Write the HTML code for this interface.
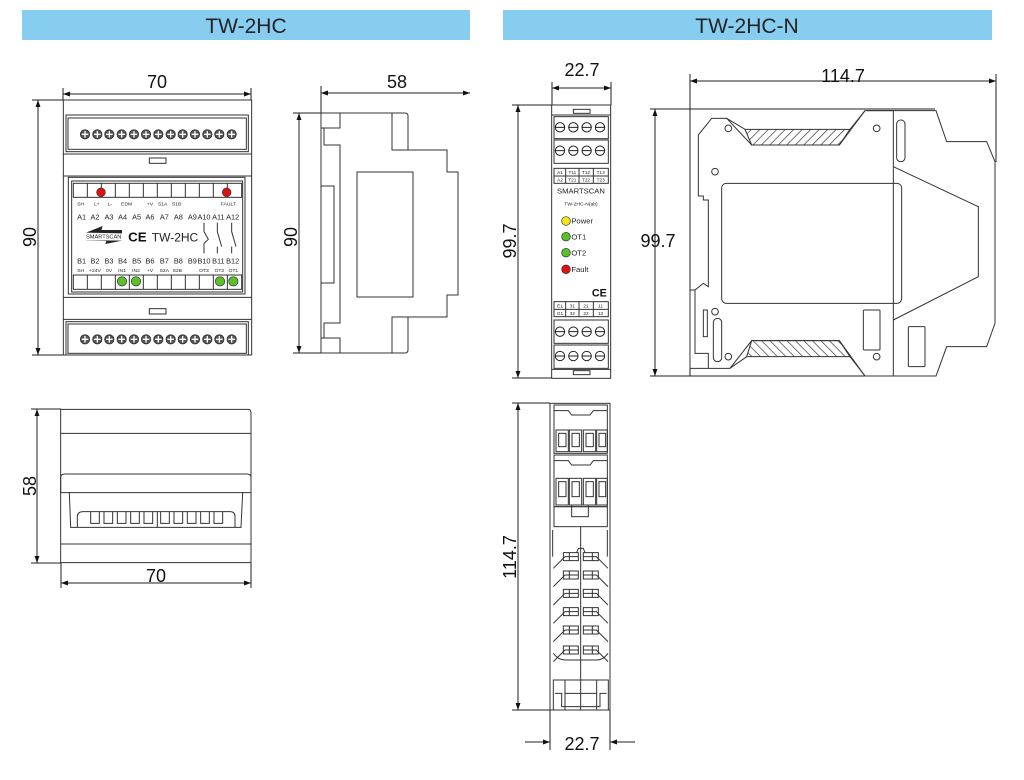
<!DOCTYPE html>
<html><head><meta charset="utf-8"><style>
html,body{margin:0;padding:0;background:#fff;}
svg{display:block;font-family:"Liberation Sans",Arial,sans-serif;}
</style></head><body>
<svg width="1024" height="780" viewBox="0 0 1024 780" xmlns="http://www.w3.org/2000/svg">
<defs>
<marker id="ar" viewBox="0 0 10 10" refX="10" refY="5" markerWidth="9" markerHeight="7" orient="auto-start-reverse" markerUnits="userSpaceOnUse"><path d="M0,1.5 L10,5 L0,8.5 Z" fill="#111"/></marker>
<pattern id="hatch" width="18" height="18" patternUnits="userSpaceOnUse" patternTransform="rotate(45)"><line x1="0" y1="0" x2="0" y2="18" stroke="#333" stroke-width="4"/></pattern>
<pattern id="hatch2" width="18" height="18" patternUnits="userSpaceOnUse" patternTransform="rotate(-45)"><line x1="0" y1="0" x2="0" y2="18" stroke="#333" stroke-width="4"/></pattern>
</defs>

<!-- headers -->
<rect x="22" y="10" width="448" height="30" fill="#87cdf0"/>
<text x="246" y="33" font-size="21" text-anchor="middle" fill="#222">TW-2HC</text>
<rect x="503" y="10" width="489" height="30" fill="#87cdf0"/>
<text x="747" y="33" font-size="21" text-anchor="middle" fill="#222">TW-2HC-N</text>

<g stroke="#222" stroke-width="1" fill="none">
<!-- left front dims -->
<line x1="63" y1="88" x2="63" y2="100"/><line x1="251" y1="88" x2="251" y2="100"/>
<line x1="63" y1="94" x2="251" y2="94" marker-start="url(#ar)" marker-end="url(#ar)"/>
<line x1="32" y1="100" x2="63" y2="100"/><line x1="32" y1="355" x2="63" y2="355"/>
<line x1="38" y1="100" x2="38" y2="355" marker-start="url(#ar)" marker-end="url(#ar)"/>
<!-- side dims -->
<line x1="321" y1="86" x2="321" y2="113"/>
<line x1="321" y1="93" x2="470" y2="93" marker-start="url(#ar)" marker-end="url(#ar)"/>
<line x1="293" y1="113" x2="321" y2="113"/><line x1="293" y1="353" x2="321" y2="353"/>
<line x1="299" y1="113" x2="299" y2="353" marker-start="url(#ar)" marker-end="url(#ar)"/>
<!-- bottom-left dims -->
<line x1="31" y1="409" x2="61" y2="409"/><line x1="31" y1="563" x2="61" y2="563"/>
<line x1="37" y1="409" x2="37" y2="563" marker-start="url(#ar)" marker-end="url(#ar)"/>
<line x1="61" y1="563" x2="61" y2="588"/><line x1="251" y1="563" x2="251" y2="588"/>
<line x1="61" y1="583" x2="251" y2="583" marker-start="url(#ar)" marker-end="url(#ar)"/>
<!-- right front dims -->
<line x1="552" y1="82" x2="552" y2="105"/><line x1="611" y1="82" x2="611" y2="105"/>
<line x1="552" y1="88" x2="611" y2="88" marker-start="url(#ar)" marker-end="url(#ar)"/>
<line x1="512" y1="105" x2="552" y2="105"/><line x1="512" y1="378" x2="552" y2="378"/>
<line x1="518" y1="105" x2="518" y2="378" marker-start="url(#ar)" marker-end="url(#ar)"/>
<!-- right side dims -->
<line x1="690" y1="74" x2="690" y2="376"/><line x1="996" y1="74" x2="996" y2="162"/>
<line x1="690" y1="81" x2="996" y2="81" marker-start="url(#ar)" marker-end="url(#ar)"/>
<line x1="650" y1="109" x2="935" y2="109"/><line x1="650" y1="376" x2="867" y2="376"/>
<line x1="655" y1="109" x2="655" y2="376" marker-start="url(#ar)" marker-end="url(#ar)"/>
<!-- bottom right dims -->
<line x1="512" y1="403" x2="550" y2="403"/><line x1="512" y1="710" x2="550" y2="710"/>
<line x1="518" y1="403" x2="518" y2="710" marker-start="url(#ar)" marker-end="url(#ar)"/>
<line x1="550" y1="710" x2="550" y2="750"/><line x1="610" y1="710" x2="610" y2="750"/>
<line x1="525" y1="742" x2="550" y2="742" marker-end="url(#ar)"/>
<line x1="635" y1="742" x2="610" y2="742" marker-end="url(#ar)"/>
</g>

<g font-size="18" fill="#111" text-anchor="middle">
<text x="157" y="88">70</text>
<text transform="translate(36,237) rotate(-90)">90</text>
<text x="397" y="88">58</text>
<text transform="translate(297,237) rotate(-90)">90</text>
<text transform="translate(36,486) rotate(-90)">58</text>
<text x="156" y="582">70</text>
<text x="582" y="76">22.7</text>
<text transform="translate(516,241) rotate(-90)">99.7</text>
<text x="843" y="82">114.7</text>
<text x="658" y="247">99.7</text>
<text transform="translate(516,557) rotate(-90)">114.7</text>
<text x="582" y="750">22.7</text>
</g>

<!-- LEFT FRONT VIEW (zoom coords) -->
<g transform="translate(60,100) scale(0.33333)">
<g stroke="#333" stroke-width="3" fill="none">
<rect x="10" y="0" width="565" height="765"/>
<rect x="18" y="45" width="547" height="110"/><rect x="24" y="54" width="535" height="94"/>
<line x1="10" y1="162" x2="575" y2="162"/>
<rect x="268" y="174" width="50" height="16"/>
<line x1="10" y1="228" x2="575" y2="228"/>
<rect x="25" y="232" width="530" height="350"/><rect x="35" y="243" width="513" height="333"/>
<rect x="40" y="250" width="505" height="42"/>
<rect x="40" y="525" width="505" height="43"/>
<line x1="10" y1="592" x2="575" y2="592"/>
<rect x="268" y="626" width="50" height="16"/>
<line x1="10" y1="658" x2="575" y2="658"/>
<rect x="18" y="665" width="547" height="100"/><rect x="24" y="672" width="535" height="88"/>
<path d="M82,250V292M124,250V292M166,250V292M208,250V292M250,250V292M292,250V292M334,250V292M376,250V292M418,250V292M460,250V292M502,250V292"/>
<path d="M82,525V568M124,525V568M166,525V568M208,525V568M250,525V568M292,525V568M334,525V568M376,525V568M418,525V568M460,525V568M502,525V568"/>
<path d="M432,368V395L445,418L432,430V460M472,368V395L485,440M472,440V460M515,368V395L528,440M515,440V460"/>
</g>
<g fill="#555" stroke="#222" stroke-width="2">
<g id="scr">
<circle cx="75" cy="103" r="14"/><circle cx="112" cy="103" r="14"/><circle cx="148" cy="103" r="14"/><circle cx="185" cy="103" r="14"/><circle cx="222" cy="103" r="14"/><circle cx="258" cy="103" r="14"/><circle cx="295" cy="103" r="14"/><circle cx="332" cy="103" r="14"/><circle cx="368" cy="103" r="14"/><circle cx="405" cy="103" r="14"/><circle cx="442" cy="103" r="14"/><circle cx="478" cy="103" r="14"/><circle cx="515" cy="103" r="14"/>
</g>
<use href="#scr" transform="translate(0,615)"/>
</g>
<g id="plus" stroke="#fff" stroke-width="4">
<path d="M65,103H85M75,93V113M102,103H122M112,93V113M138,103H158M148,93V113M175,103H195M185,93V113M212,103H232M222,93V113M248,103H268M258,93V113M285,103H305M295,93V113M322,103H342M332,93V113M358,103H378M368,93V113M395,103H415M405,93V113M432,103H452M442,93V113M468,103H488M478,93V113M505,103H525M515,93V113"/>
</g>
<use href="#plus" transform="translate(0,615)"/>
<g stroke="#333" stroke-width="2">
<circle cx="123" cy="277" r="13" fill="#e01010"/><circle cx="500" cy="277" r="13" fill="#e01010"/>
<circle cx="186" cy="544" r="14" fill="#5cc02a"/><circle cx="228" cy="544" r="14" fill="#5cc02a"/>
<circle cx="480" cy="544" r="14" fill="#5cc02a"/><circle cx="520" cy="544" r="14" fill="#5cc02a"/>
</g>
<g font-size="15" fill="#222" text-anchor="middle">
<text x="62" y="317">SH</text><text x="110" y="317">L+</text><text x="150" y="317">L-</text><text x="200" y="317">EDM</text><text x="270" y="317">+V</text><text x="308" y="317">S1A</text><text x="350" y="317">S1B</text><text x="505" y="317">FAULT</text>
<text x="62" y="516">SH</text><text x="105" y="516">+24V</text><text x="147" y="516">0V</text><text x="186" y="516">IN1</text><text x="228" y="516">IN2</text><text x="270" y="516">+V</text><text x="313" y="516">S2A</text><text x="352" y="516">S2B</text><text x="432" y="516">OT3</text><text x="478" y="516">OT2</text><text x="520" y="516">OT1</text>
</g>
<g font-size="22" fill="#222" text-anchor="middle">
<text x="65" y="358">A1</text><text x="105" y="358">A2</text><text x="147" y="358">A3</text><text x="188" y="358">A4</text><text x="230" y="358">A5</text><text x="270" y="358">A6</text><text x="313" y="358">A7</text><text x="355" y="358">A8</text><text x="397" y="358">A9</text><text x="432" y="358">A10</text><text x="475" y="358">A11</text><text x="518" y="358">A12</text>
<text x="65" y="490">B1</text><text x="105" y="490">B2</text><text x="147" y="490">B3</text><text x="188" y="490">B4</text><text x="230" y="490">B5</text><text x="270" y="490">B6</text><text x="313" y="490">B7</text><text x="355" y="490">B8</text><text x="397" y="490">B9</text><text x="432" y="490">B10</text><text x="475" y="490">B11</text><text x="518" y="490">B12</text>
</g>
<polygon points="78,398 128,378 124,390 186,390 186,400" fill="#222"/>
<polygon points="78,420 140,420 136,432 186,422" fill="#222"/>
<text x="131" y="415" font-size="17" text-anchor="middle" fill="#222">SMARTSCAN</text>
<text x="232" y="424" font-size="40" font-weight="bold" text-anchor="middle" fill="#111">CE</text>
<text x="345" y="424" font-size="36" text-anchor="middle" fill="#222">TW-2HC</text>
</g>

<!-- SIDE VIEW -->
<g stroke="#333" stroke-width="1" fill="none">
<path d="M321,113 H405 Q408,113 408,116 V150 H447 V172 H458 V295 H447 V317 H408 V350 Q408,353 405,353 H321 Z"/>
<path d="M392,113 V150 H408 M392,353 V317 H408"/>
<rect x="321" y="113" width="19" height="15"/>
<rect x="321" y="338" width="19" height="15"/>
<path d="M324,128 V145 H340 V186 M340,283 V323 H324 V338"/>
<path d="M321,186 H334 V283 H321"/>
<path d="M340,186 V283"/>
<rect x="357" y="172" width="56" height="125"/>
</g>

<!-- BOTTOM LEFT VIEW -->
<g transform="translate(20,400) scale(0.33333)" stroke="#333" stroke-width="3" fill="none">
<path d="M122,28 H685 Q693,28 693,40 V488 H122 Z"/>
<line x1="122" y1="100" x2="693" y2="100"/>
<path d="M122,278 V232 Q122,222 135,222 H680 Q693,222 693,232 V278 Z"/>
<path d="M148,278 L152,382 H663 L668,278"/>
<path d="M172,382 V350 Q172,335 190,335 H630 Q645,335 645,350 V382"/>
<path d="M212,335V370H238V335M252,335V370H278V335M292,335V370H318V335M332,335V370H358V335M372,335V370H398V335M412,335V382M422,335V370H448V335M462,335V370H488V335M502,335V370H528V335M542,335V370H568V335M582,335V370H608V335"/>
<line x1="122" y1="432" x2="693" y2="432"/>
</g>

<!-- RIGHT FRONT TW-2HC-N -->
<g transform="translate(540,100) scale(0.33333)">
<g stroke="#333" stroke-width="3" fill="none">
<rect x="35" y="15" width="177" height="820"/>
<rect x="100" y="28" width="50" height="12"/>
<rect x="100" y="812" width="50" height="12"/>
<line x1="35" y1="45" x2="212" y2="45"/>
<rect x="42" y="50" width="163" height="66"/>
<rect x="42" y="120" width="163" height="70"/>
<rect x="42" y="205" width="163" height="45"/><line x1="42" y1="228" x2="205" y2="228"/>
<path d="M77,205V250M117,205V250M160,205V250"/>
<rect x="42" y="605" width="163" height="45"/><line x1="42" y1="628" x2="205" y2="628"/>
<path d="M77,605V650M117,605V650M160,605V650"/>
<rect x="42" y="660" width="163" height="70"/>
<rect x="42" y="735" width="163" height="70"/>
<line x1="35" y1="808" x2="212" y2="808"/>
</g>
<g id="nscr" fill="#fff" stroke="#222" stroke-width="3">
<circle cx="60" cy="82" r="14"/><circle cx="100" cy="82" r="14"/><circle cx="140" cy="82" r="14"/><circle cx="180" cy="82" r="14"/>
<path d="M46,82H74M86,82H114M126,82H154M166,82H194"/>
</g>
<use href="#nscr" transform="translate(0,70)"/>
<use href="#nscr" transform="translate(0,613)"/>
<use href="#nscr" transform="translate(0,686)"/>
<g font-size="14" fill="#222" text-anchor="middle">
<text x="60" y="222">A1</text><text x="97" y="222">T11</text><text x="138" y="222">T12</text><text x="182" y="222">T13</text>
<text x="60" y="245">A2</text><text x="97" y="245">T21</text><text x="138" y="245">T22</text><text x="182" y="245">T23</text>
<text x="60" y="622">E1</text><text x="97" y="622">31</text><text x="138" y="622">21</text><text x="182" y="622">11</text>
<text x="60" y="645">G1</text><text x="97" y="645">32</text><text x="138" y="645">22</text><text x="182" y="645">12</text>
</g>
<text x="123" y="280" font-size="23" text-anchor="middle" fill="#222">SMARTSCAN</text>
<text x="123" y="316" font-size="15" text-anchor="middle" fill="#222">TW-2HC-N(ab)</text>
<g stroke="#333" stroke-width="2">
<circle cx="78" cy="363" r="13" fill="#f2e51c"/><circle cx="78" cy="410" r="13" fill="#5cc02a"/>
<circle cx="78" cy="458" r="13" fill="#5cc02a"/><circle cx="78" cy="508" r="13" fill="#e01010"/>
</g>
<g font-size="23" fill="#222">
<text x="94" y="371">Power</text><text x="94" y="418">OT1</text><text x="94" y="466">OT2</text><text x="94" y="516">Fault</text>
</g>
<text x="178" y="590" font-size="32" font-weight="bold" text-anchor="middle" fill="#111">CE</text>
</g>

<!-- RIGHT SIDE VIEW -->
<g transform="translate(680,90) scale(0.33333)" stroke="#333" stroke-width="3" fill="none">
<path d="M55,135 L95,85 L140,85 L215,165 L478,165 L555,62 L768,62 L800,155 L920,155 L945,215 L945,700 L920,770 L800,770 L768,858 L555,858 L478,752 L215,752 L150,835 L85,835 L85,790 L45,790 L45,600 L70,580 L85,590 L85,330 L70,330 L70,318 L55,318 Z"/>
<path d="M85,835 L30,835 L30,600 L45,600"/>
<path d="M560,62 L640,62 M555,858 L640,858"/>
<polygon points="195,118 510,118 478,165 215,165" fill="url(#hatch)"/>
<polygon points="200,800 510,800 478,752 215,752" fill="url(#hatch2)"/>
<path d="M140,85 L195,118 M510,118 L555,62 M150,835 L200,800 M510,800 L555,858"/>
<rect x="125" y="280" width="540" height="360" rx="14"/>
<line x1="640" y1="62" x2="640" y2="858"/>
<polyline points="640,230 895,350 895,560 640,690"/>
<rect x="650" y="90" width="25" height="125" rx="12"/>
<rect x="550" y="660" width="50" height="120" rx="3"/>
<rect x="685" y="710" width="50" height="120" rx="3"/>
<rect x="100" y="685" width="25" height="130" rx="12"/>
<rect x="70" y="660" width="12" height="80"/>
<circle cx="145" cy="115" r="10"/><circle cx="590" cy="115" r="10"/>
<circle cx="105" cy="245" r="10"/><circle cx="105" cy="665" r="10"/>
<circle cx="145" cy="800" r="10"/><circle cx="590" cy="800" r="10"/>
</g>

<!-- BOTTOM RIGHT VIEW -->
<g transform="translate(500,390) scale(0.33333)" stroke="#333" stroke-width="3" fill="none">
<rect x="150" y="40" width="180" height="920"/>
<rect x="162" y="45" width="160" height="145" fill="#fff"/>
<path d="M162,62 H205 L215,75 H270 L280,62 H322"/>
<rect x="168" y="120" width="37" height="65"/><rect x="208" y="120" width="37" height="65"/><rect x="250" y="120" width="37" height="65"/><rect x="290" y="120" width="32" height="65"/>
<rect x="176" y="130" width="22" height="40"/><rect x="216" y="130" width="22" height="40"/><rect x="258" y="130" width="22" height="40"/><rect x="297" y="130" width="20" height="40"/>
<rect x="162" y="195" width="160" height="155"/>
<path d="M162,212 H205 L215,225 H270 L280,212 H322"/>
<rect x="168" y="265" width="37" height="80"/><rect x="208" y="265" width="37" height="80"/><rect x="250" y="265" width="37" height="80"/><rect x="290" y="265" width="32" height="80"/>
<rect x="176" y="275" width="22" height="45"/><rect x="216" y="275" width="22" height="45"/><rect x="258" y="275" width="22" height="45"/><rect x="297" y="275" width="20" height="45"/>
<rect x="162" y="350" width="160" height="60"/>
<rect x="215" y="345" width="50" height="35"/>
<line x1="242" y1="410" x2="242" y2="960"/>
<path d="M158,420 V500 M322,420 V500"/>
<g id="fin">
<path d="M160,535 L195,500 H235 M190,488 H235 V512 H190 Z M208,488 V512"/>
<path d="M324,535 L289,500 H250 M295,488 H250 V512 H295 Z M277,488 V512"/>
</g>
<use href="#fin" transform="translate(0,55)"/>
<use href="#fin" transform="translate(0,110)"/>
<use href="#fin" transform="translate(0,165)"/>
<use href="#fin" transform="translate(0,220)"/>
<use href="#fin" transform="translate(0,280)"/>
<path d="M230,488 L235,475 H250 L255,488"/>
<path d="M160,790 Q175,810 195,810 H290 Q310,810 324,790"/>
<rect x="160" y="870" width="165" height="90"/>
<rect x="195" y="870" width="95" height="90"/>
<line x1="195" y1="910" x2="290" y2="910"/>
<path d="M165,910 H185 V950 H300 V910 H320"/>
</g>
</svg>
</body></html>
